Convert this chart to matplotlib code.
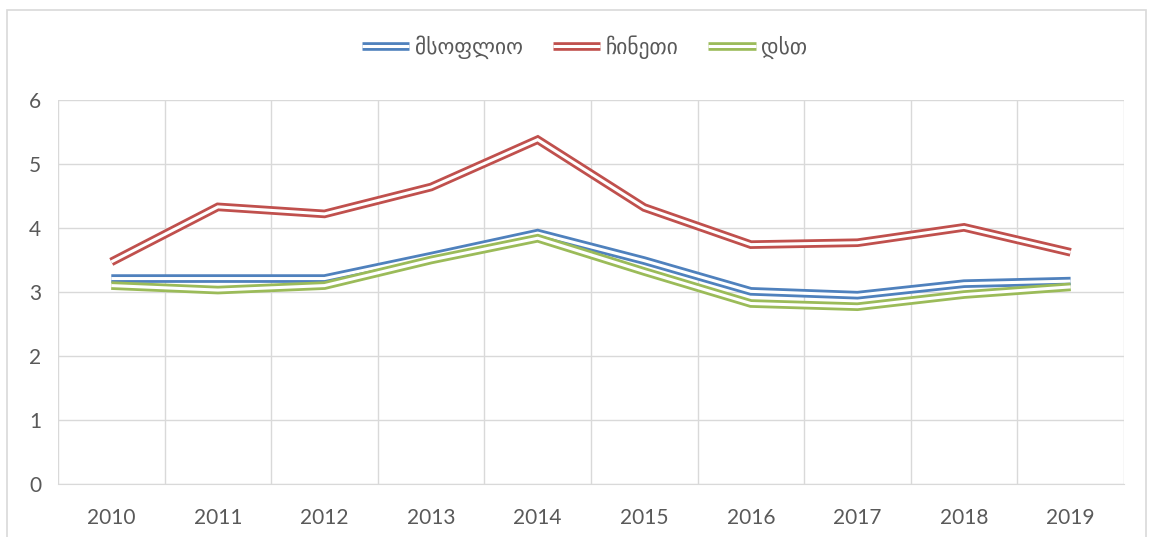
import numpy as np
import matplotlib
matplotlib.use("Agg")
import matplotlib.pyplot as plt
from matplotlib.lines import Line2D
from matplotlib.patches import Rectangle

years = [2010, 2011, 2012, 2013, 2014, 2015, 2016, 2017, 2018, 2019]
series_names = ["მსოფლიო", "ჩინეთი", "დსთ"]
world = [3.21, 3.21, 3.21, 3.56, 3.92, 3.49, 3.01, 2.95, 3.13, 3.17]
china = [3.47, 4.33, 4.22, 4.64, 5.38, 4.32, 3.74, 3.77, 4.01, 3.62]
cis = [3.10, 3.03, 3.10, 3.50, 3.84, 3.32, 2.82, 2.77, 2.96, 3.08]
colors = ["#4F81BD", "#C0504D", "#9BBB59"]

text_color = "#595959"
grid_color = "#D9D9D9"

fig = plt.figure(figsize=(11.53, 5.37), dpi=100)
ax = fig.add_axes([0.0503, 0.0987, 0.9245, 0.7151])

# chart border
fig.patches.append(Rectangle((0.006, -0.01), 0.988, 0.991, transform=fig.transFigure,
	fill=False, edgecolor="#D9D9D9", linewidth=1.2))

x = np.arange(len(years))
handles = []
for name, vals, col in zip(series_names, [world, china, cis], colors):
	# Excel style double line: thick coloured stroke with thin white core
	ax.plot(x, vals, color=col, linewidth=6.2, solid_joinstyle="miter",
		solid_capstyle="butt", zorder=3)
	ax.plot(x, vals, color="white", linewidth=2.2, solid_joinstyle="miter",
		solid_capstyle="butt", zorder=3)
	handles.append((
		Line2D([], [], color=col, linewidth=6.2, solid_capstyle="butt"),
		Line2D([], [], color="white", linewidth=2.2, solid_capstyle="butt")
	))

ax.set_xlim(-0.5, len(years) - 0.5)
ax.set_ylim(0, 6)
ax.set_yticks(range(0, 7))
ax.set_xticks(x, labels=[str(y) for y in years])
ax.set_xticks(np.arange(-0.5, len(years)), minor=True)
ax.grid(which="major", axis="y", color=grid_color, linewidth=1)
ax.grid(which="minor", axis="x", color=grid_color, linewidth=1)
ax.set_axisbelow(True)
ax.tick_params(which="both", length=0)
ax.tick_params(axis="x", pad=17, labelsize=15, labelcolor=text_color)
ax.tick_params(axis="y", pad=12, labelsize=15, labelcolor=text_color)
for lab in ax.get_xticklabels() + ax.get_yticklabels():
	lab.set_family(["Lato", "DejaVu Sans"])
for side in ["top", "right", "left"]:
	ax.spines[side].set_visible(False)
ax.spines["bottom"].set_color(grid_color)

fig.legend(handles, series_names, loc="center", bbox_to_anchor=(0.507, 0.912),
	ncol=3, frameon=False, handlelength=2.2, columnspacing=1.4, handletextpad=0.25,
	prop={"family": ["DejaVu Sans"], "size": 15.5}, labelcolor=text_color)

fig.savefig("out.png", dpi=100)
